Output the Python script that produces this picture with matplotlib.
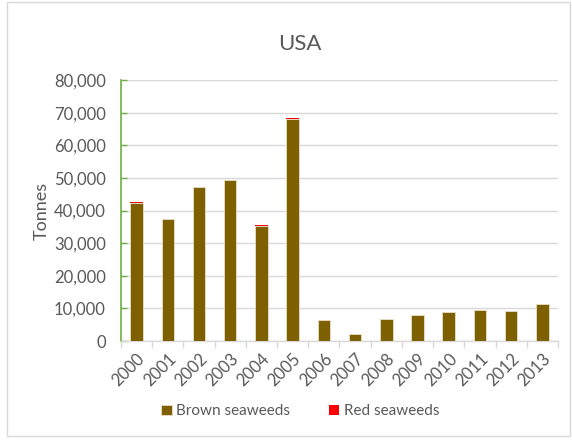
import matplotlib.pyplot as plt
from matplotlib.patches import Rectangle
from matplotlib.ticker import FuncFormatter

years = ['2000', '2001', '2002', '2003', '2004', '2005', '2006',
         '2007', '2008', '2009', '2010', '2011', '2012', '2013']
brown = [42300, 37300, 47300, 49400, 35300, 68000, 6400,
         2100, 6700, 8100, 8900, 9500, 9200, 11300]
red = [400, 0, 0, 0, 400, 450, 0, 0, 0, 0, 0, 0, 0, 0]

plt.rcParams['font.family'] = ['Lato', 'DejaVu Sans']
text_col = '#595959'

fig = plt.figure(figsize=(5.72, 4.4), dpi=100)
fig.patches.append(Rectangle((0.012, 0.01), 0.985, 0.985, transform=fig.transFigure,
                             fill=False, edgecolor='#d9d9d9', linewidth=1))
ax = fig.add_axes([0.2115, 0.225, 0.764, 0.593])

x = range(len(years))
ax.bar(x, brown, width=0.4, color='#7f6000', edgecolor='#e8dfc8', linewidth=0.6,
       label='Brown seaweeds', zorder=3)
ax.bar(x, red, width=0.4, bottom=brown, color='#ff0000', linewidth=0,
       label='Red seaweeds', zorder=3)

ax.set_ylim(0, 80000)
ax.set_xlim(-0.5, len(years) - 0.5)
ax.set_yticks(range(0, 80001, 10000))
ax.yaxis.set_major_formatter(FuncFormatter(lambda v, p: f'{int(v):,}'))
ax.grid(axis='y', color='#d9d9d9', linewidth=1, zorder=0)

ax.set_xticks(list(x))
ax.set_xticklabels(years, rotation=45, ha='right', rotation_mode='anchor')
ax.set_xticks([i - 0.5 for i in range(len(years) + 1)], minor=True)
ax.tick_params(axis='x', which='major', length=0, labelsize=12, colors=text_col, pad=7)
ax.tick_params(axis='x', which='minor', length=5, color='#d9d9d9', width=1)
ax.tick_params(axis='y', direction='in', length=4, color='#70ad47', width=1,
               labelsize=12, labelcolor=text_col, pad=11)

for s in ['top', 'right']:
    ax.spines[s].set_visible(False)
ax.spines['left'].set_color('#70ad47')
ax.spines['left'].set_linewidth(1.2)
ax.spines['bottom'].set_color('#d9d9d9')
ax.spines['bottom'].set_linewidth(1)

ax.set_ylabel('Tonnes', fontsize=13, color=text_col, labelpad=3)
fig.text(0.525, 0.9, 'USA', ha='center', va='center', fontsize=16, color=text_col)

fig.legend(loc='center', bbox_to_anchor=(0.525, 0.065), ncol=2, frameon=False,
           fontsize=11, labelcolor=text_col, handlelength=0.7, handleheight=0.7,
           handletextpad=0.3, columnspacing=2.5)

fig.savefig('out.png', dpi=100)
